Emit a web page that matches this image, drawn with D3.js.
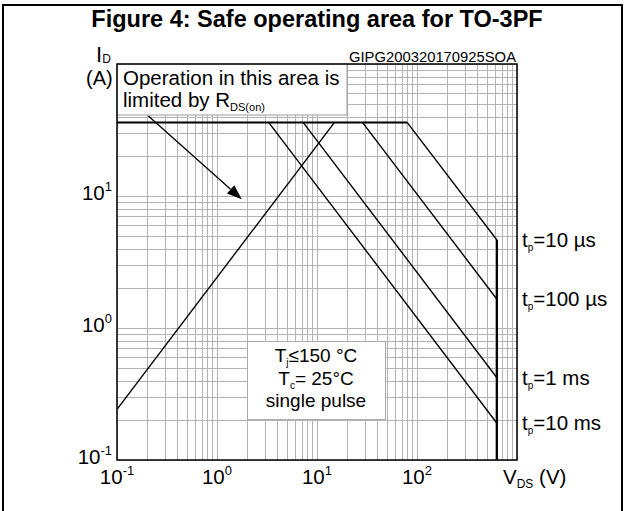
<!DOCTYPE html>
<html><head><meta charset="utf-8">
<script src="https://cdn.jsdelivr.net/npm/d3@7"></script>
<style>
body{margin:0;background:#fff}
svg{display:block}
text{font-family:"Liberation Sans",Arial,Helvetica,sans-serif;fill:#000}
</style>
</head><body>
<svg id="chart" width="625" height="511"></svg>
<script>
// ---- data ----
const xDomain = [0.1, 1000];          // V_DS (V)
const yDomain = [0.1, 100];           // I_D (A)
const xTickExps = [-1, 0, 1, 2];
const yTickExps = [-1, 0, 1];
const currentLimitA = 36;             // pulsed drain current limit
const currentLimitEndV = 80;
const rdsLine = [[0.1, 0.242], [14.9, 36]];   // limited by R_DS(on)
const pulseLabels = ["10 µs", "100 µs", "1 ms", "10 ms"];
const pulseCornerV = [80, 28.6, 7.3, 3.3];    // start of constant-power segment
const pulseEndI = [4.64, 1.65, 0.42, 0.19];   // current at breakdown voltage
const breakdownV = 630;
const arrowFrom = [0.206, 40.4];
const arrowTo = [1.77, 9.44];

const svg = d3.select("#chart");
const L = 117, R = 517, T = 64, B = 460;
const x = d3.scaleLog().domain(xDomain).range([L, R]);
const y = d3.scaleLog().domain(yDomain).range([B, T]);

// outer frame
svg.append("path").attr("d", `M3,511V5H622V511`).attr("fill", "none")
  .attr("stroke", "#000").attr("stroke-width", 2);

// title
svg.append("text").attr("x", 317).attr("y", 27).attr("text-anchor", "middle")
  .attr("font-weight", "bold").attr("font-size", 23.5)
  .text("Figure 4: Safe operating area for TO-3PF");

// grid
const grid = svg.append("g").attr("stroke", "#b4b4b4").attr("stroke-width", 1);
grid.selectAll("line.gx").data(x.ticks()).join("line")
  .attr("x1", d => Math.round(x(d)) + 0.5).attr("x2", d => Math.round(x(d)) + 0.5)
  .attr("y1", T).attr("y2", B);
grid.selectAll("line.gy").data(y.ticks()).join("line")
  .attr("y1", d => Math.round(y(d)) + 0.5).attr("y2", d => Math.round(y(d)) + 0.5)
  .attr("x1", L).attr("x2", R);

// annotation boxes (white, grey border)
svg.append("rect").attr("x", L).attr("y", T).attr("width", 230).attr("height", 51)
  .attr("fill", "#fff").attr("stroke", "#999").attr("stroke-width", 1);
svg.append("rect").attr("x", 247.5).attr("y", 341.5).attr("width", 138).attr("height", 78)
  .attr("fill", "#fff").attr("stroke", "#aaa").attr("stroke-width", 1);

// plot border
svg.append("rect").attr("x", L).attr("y", T).attr("width", R - L).attr("height", B - T)
  .attr("fill", "none").attr("stroke", "#000").attr("stroke-width", 1.5);

const line = d3.line().x(d => x(d[0])).y(d => y(d[1]));

// current limit
svg.append("path").attr("d", line([[xDomain[0], currentLimitA], [currentLimitEndV, currentLimitA]]))
  .attr("fill", "none").attr("stroke", "#000").attr("stroke-width", 2);
// R_DS(on) line
svg.append("path").attr("d", line(rdsLine))
  .attr("fill", "none").attr("stroke", "#000").attr("stroke-width", 1.4);
// pulse curves
pulseCornerV.forEach((v, i) => {
  svg.append("path")
    .attr("d", line([[v, currentLimitA], [breakdownV, pulseEndI[i]], [breakdownV, yDomain[0]]]))
    .attr("fill", "none").attr("stroke", "#000").attr("stroke-width", 1.4);
});
svg.append("path").attr("d", line([[breakdownV, d3.max(pulseEndI)], [breakdownV, yDomain[0]]]))
  .attr("fill", "none").attr("stroke", "#000").attr("stroke-width", 2);

// pulse labels
pulseLabels.forEach((lab, i) => {
  const t = svg.append("text").attr("x", 522).attr("y", y(pulseEndI[i]) + 7).attr("font-size", 20.5);
  t.append("tspan").text("t");
  t.append("tspan").attr("font-size", 10).attr("dy", 4).text("p");
  t.append("tspan").attr("dy", -4).text("=" + lab);
});

// arrow
const ax1 = x(arrowFrom[0]), ay1 = y(arrowFrom[1]), ax2 = x(arrowTo[0]), ay2 = y(arrowTo[1]);
const ang = Math.atan2(ay2 - ay1, ax2 - ax1);
const hl = 15, hw = 5.5;
const bx = ax2 - hl * Math.cos(ang), by = ay2 - hl * Math.sin(ang);
svg.append("line").attr("x1", ax1).attr("y1", ay1).attr("x2", bx).attr("y2", by)
  .attr("stroke", "#000").attr("stroke-width", 1.3);
svg.append("path").attr("d", `M${ax2},${ay2}L${bx + hw * Math.sin(ang)},${by - hw * Math.cos(ang)}L${bx - hw * Math.sin(ang)},${by + hw * Math.cos(ang)}Z`)
  .attr("fill", "#000");

// box text
svg.append("text").attr("x", 123).attr("y", 85).attr("font-size", 20.5).text("Operation in this area is");
const t2 = svg.append("text").attr("x", 123).attr("y", 107).attr("font-size", 20.5);
t2.append("tspan").text("limited by R");
t2.append("tspan").attr("font-size", 11).attr("dy", 4).text("DS(on)");

const tb = svg.append("g").attr("font-size", 19).attr("text-anchor", "middle");
const l1 = tb.append("text").attr("x", 316).attr("y", 362);
l1.append("tspan").text("T");
l1.append("tspan").attr("font-size", 10).attr("dy", 4).text("j");
l1.append("tspan").attr("dy", -4).text("≤150 °C");
const l2 = tb.append("text").attr("x", 316).attr("y", 384.5);
l2.append("tspan").text("T");
l2.append("tspan").attr("font-size", 10).attr("dy", 4).text("c");
l2.append("tspan").attr("dy", -4).text("= 25°C");
tb.append("text").attr("x", 316).attr("y", 407).text("single pulse");

// code
svg.append("text").attr("x", 516).attr("y", 62).attr("text-anchor", "end")
  .attr("font-size", 14.8).text("GIPG200320170925SOA");

// tick labels
const supr = { "-1": "-1", "0": "0", "1": "1", "2": "2" };
xTickExps.forEach(e => {
  const t = svg.append("text").attr("x", x(Math.pow(10, e))).attr("y", 484)
    .attr("text-anchor", "middle").attr("font-size", 20.5);
  t.append("tspan").text("10");
  t.append("tspan").attr("font-size", 13).attr("dy", -9).text(supr[e]);
});
yTickExps.forEach(e => {
  const t = svg.append("text").attr("x", 112).attr("y", y(Math.pow(10, e)) + 4)
    .attr("text-anchor", "end").attr("font-size", 20.5);
  t.append("tspan").text("10");
  t.append("tspan").attr("font-size", 13).attr("dy", -9).text(supr[e]);
});

// axis titles
const id = svg.append("text").attr("x", 96).attr("y", 62).attr("font-size", 22);
id.append("tspan").text("I");
id.append("tspan").attr("font-size", 12).attr("dy", 1).text("D");
svg.append("text").attr("x", 86).attr("y", 85).attr("font-size", 20).text("(A)");
const vx = svg.append("text").attr("x", 503).attr("y", 484).attr("font-size", 20.5);
vx.append("tspan").text("V");
vx.append("tspan").attr("font-size", 12).attr("dy", 4).text("DS");
vx.append("tspan").attr("dy", -4).text(" (V)");
</script>
</body></html>
